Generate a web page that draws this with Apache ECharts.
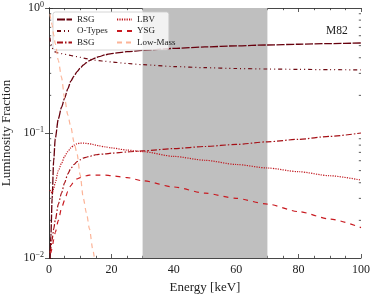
<!DOCTYPE html>
<html>
<head>
<meta charset="utf-8">
<script src="https://cdn.jsdelivr.net/npm/echarts@6/dist/echarts.min.js"></script>
<style>html,body{margin:0;padding:0;background:#fff}#c{width:374px;height:298px}</style>
</head>
<body>
<div id="c"></div>
<script>
const energy = [0.3, 0.6, 1, 1.5, 2, 3, 4, 5, 6, 7, 8, 9, 10, 11, 12, 13, 14, 15, 16, 18, 20, 25, 30, 40, 50, 60, 70, 80, 90, 100];
const rsg = [0.008, 0.015, 0.03, 0.06, 0.09, 0.13, 0.16, 0.19, 0.225, 0.26, 0.285, 0.31, 0.33, 0.35, 0.365, 0.38, 0.39, 0.40, 0.408, 0.422, 0.432, 0.447, 0.458, 0.475, 0.488, 0.498, 0.506, 0.513, 0.519, 0.525];
const oTypes = [0.58, 0.52, 0.48, 0.455, 0.445, 0.437, 0.432, 0.427, 0.422, 0.417, 0.412, 0.408, 0.403, 0.398, 0.393, 0.389, 0.385, 0.382, 0.379, 0.374, 0.37, 0.36, 0.352, 0.34, 0.333, 0.328, 0.325, 0.323, 0.321, 0.32];
const bsg = [0.011, 0.012, 0.014, 0.017, 0.02, 0.027, 0.033, 0.04, 0.047, 0.052, 0.056, 0.059, 0.061, 0.063, 0.064, 0.065, 0.066, 0.067, 0.0675, 0.068, 0.069, 0.0705, 0.072, 0.075, 0.078, 0.081, 0.085, 0.089, 0.094, 0.1];
const lbv = [0.035, 0.034, 0.033, 0.036, 0.04, 0.05, 0.057, 0.065, 0.071, 0.076, 0.08, 0.082, 0.083, 0.083, 0.0825, 0.082, 0.081, 0.08, 0.079, 0.0775, 0.076, 0.073, 0.071, 0.065, 0.0605, 0.056, 0.0525, 0.049, 0.0455, 0.042];
const ysg = [0.011, 0.011, 0.012, 0.014, 0.016, 0.02, 0.025, 0.029, 0.034, 0.038, 0.041, 0.043, 0.044, 0.045, 0.0455, 0.046, 0.046, 0.046, 0.046, 0.046, 0.0455, 0.044, 0.0415, 0.037, 0.033, 0.030, 0.027, 0.0235, 0.0205, 0.0175];
const lowMass = [0.9, 0.82, 0.73, 0.61, 0.52, 0.38, 0.28, 0.19, 0.14, 0.112, 0.085, 0.068, 0.046, 0.03, 0.023, 0.017, 0.0118, 0.008];
const xTicks = [0, 20, 40, 60, 80, 100];
const yTicks = [0.01, 0.1, 1];
const yMinor = [0.02,0.03,0.04,0.05,0.06,0.07,0.08,0.09,0.2,0.3,0.4,0.5,0.6,0.7,0.8,0.9];
const band = [30, 70];
const names = ['RSG', 'O-Types', 'BSG', 'LBV', 'YSG', 'Low-Mass'];

const FONT = 'Liberation Serif';
function pairs(arr) { return arr.map((v, i) => [energy[i], v]); }
function supLabel(v) {
  const e = Math.round(Math.log10(v));
  return '{b|10}{s|' + (e < 0 ? '\u2212' + (-e) : e) + '}';
}
const rich = { b: { fontFamily: FONT, fontSize: 12, color: '#222' }, s: { fontFamily: FONT, fontSize: 8, color: '#222', padding: [0, 0, 7, 0] } };

const lineSpec = [
  { name: names[0], data: rsg, color: '#67000d', type: [8, 1.5], w: 1.3 },
  { name: names[1], data: oTypes, color: '#6e0a12', type: [4, 3, 1, 3, 1, 3], w: 1.2 },
  { name: names[2], data: bsg, color: '#a50f15', type: [6, 2, 1.5, 2], w: 1.2 },
  { name: names[3], data: lbv, color: '#c0161d', type: [1.2, 1.2], w: 1.2 },
  { name: names[4], data: ysg, color: '#c81a20', type: [5, 5], w: 1.2 },
  { name: names[5], data: lowMass, color: '#fcb498', type: [5, 4], w: 1.2 }
];

const series = [
  { type: 'line', data: [], z: 1, silent: true,
    markArea: { silent: true, itemStyle: { color: '#bfbfbf' }, data: [[{ xAxis: band[0] }, { xAxis: band[1] }]] } }
];
lineSpec.forEach((s, i) => {
  series.push({
    name: s.name, type: 'line', data: pairs(s.data), showSymbol: false, symbol: 'none',
    smooth: 0.25, smoothMonotone: 'x', clip: true, z: 3 + i,
    lineStyle: { color: s.color, width: s.w, type: s.type }, itemStyle: { color: s.color }
  });
});
// log minor ticks on left and right frame
series.push({
  type: 'custom', z: 10, silent: true, data: yMinor.map(v => [0, v]),
  renderItem: function (params, api) {
    const cs = params.coordSys;
    const y = api.coord([0, api.value(1)])[1];
    const st = { stroke: '#333', lineWidth: 0.8 };
    return { type: 'group', children: [
      { type: 'line', shape: { x1: cs.x, y1: y, x2: cs.x + 2.2, y2: y }, style: st },
      { type: 'line', shape: { x1: cs.x + cs.width, y1: y, x2: cs.x + cs.width - 2.2, y2: y }, style: st }
    ] };
  }
});

const axisLine = { show: true, lineStyle: { color: '#333', width: 0.9 } };
const legendCommon = { orient: 'vertical', height: 40, itemGap: 2.5, itemWidth: 15, itemHeight: 8.5,
  itemStyle: { opacity: 0, borderWidth: 0 },
  textStyle: { fontFamily: FONT, fontSize: 9, color: '#222' } };
const option = {
  animation: false,
  backgroundColor: '#fff',
  title: { text: 'M82', left: 321, top: 20, textStyle: { fontFamily: FONT, fontSize: 11.5, fontWeight: 'normal', color: '#222' } },
  grid: { left: 49, right: 13, top: 8, bottom: 40, containLabel: false, outerBoundsMode: 'none' },
  legend: [
    Object.assign({}, legendCommon, { data: names.slice(0, 3), left: 53, top: 12,
      padding: [3, 61, 3, 3], backgroundColor: 'rgba(255,255,255,0.8)', borderColor: '#cccccc', borderWidth: 0.8, borderRadius: 2.5 }),
    Object.assign({}, legendCommon, { data: names.slice(3), left: 116, top: 15, padding: 0 })
  ],
  xAxis: [
    { type: 'value', min: xTicks[0], max: xTicks[xTicks.length - 1], interval: 20, position: 'bottom',
      name: 'Energy [keV]', nameLocation: 'middle', nameGap: 23,
      nameTextStyle: { fontFamily: FONT, fontSize: 13, color: '#222' },
      axisLine: axisLine, splitLine: { show: false },
      axisTick: { show: true, inside: true, length: 4, lineStyle: { color: '#333', width: 0.8 } },
      minorTick: { show: true, splitNumber: 4, length: 2.2, lineStyle: { color: '#333', width: 0.8 } },
      axisLabel: { fontFamily: FONT, fontSize: 12, color: '#222', margin: 6 } },
    { type: 'value', min: xTicks[0], max: xTicks[xTicks.length - 1], interval: 20, position: 'top',
      axisLine: axisLine, splitLine: { show: false },
      axisTick: { show: true, inside: true, length: 4, lineStyle: { color: '#333', width: 0.8 } },
      minorTick: { show: true, splitNumber: 4, length: 2.2, lineStyle: { color: '#333', width: 0.8 } },
      axisLabel: { show: false } }
  ],
  yAxis: [
    { type: 'log', logBase: 10, min: yTicks[0], max: yTicks[yTicks.length - 1], position: 'left',
      name: 'Luminosity Fraction', nameLocation: 'middle', nameGap: 31,
      nameTextStyle: { fontFamily: FONT, fontSize: 13, color: '#222' },
      axisLine: axisLine, splitLine: { show: false },
      axisTick: { show: true, inside: true, length: 4, lineStyle: { color: '#333', width: 0.8 } },
      axisLabel: { formatter: supLabel, rich: rich, margin: 5 } },
    { type: 'log', logBase: 10, min: yTicks[0], max: yTicks[yTicks.length - 1], position: 'right',
      axisLine: axisLine, splitLine: { show: false },
      axisTick: { show: true, inside: true, length: 4, lineStyle: { color: '#333', width: 0.8 } },
      axisLabel: { show: false } }
  ],
  series: series
};
const chart = echarts.init(document.getElementById('c'), null, { renderer: 'canvas' });
chart.setOption(option);
</script>
</body>
</html>
